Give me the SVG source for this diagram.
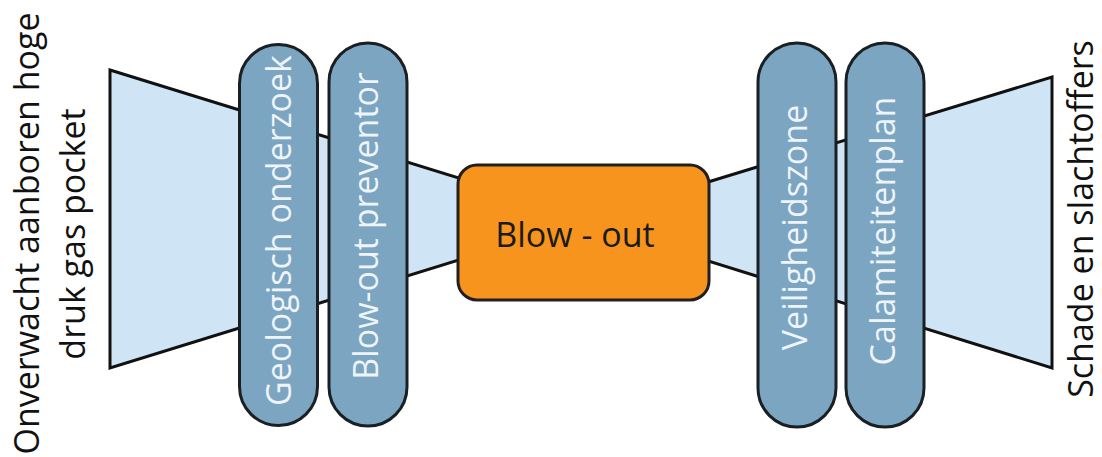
<svg xmlns="http://www.w3.org/2000/svg" width="1102" height="457" viewBox="0 0 1102 457">
  <style>
    .wing { fill: #CFE5F5; stroke: #111; stroke-width: 3; stroke-linejoin: miter; }
    .pill { fill: #7BA5C1; stroke: #1A1F24; stroke-width: 3; }
    .pilltext { font-family: "Open Sans", "Liberation Sans", sans-serif; font-size: 34px; fill: #EEF4F9; text-anchor: middle; }
    .side { font-family: "Open Sans", "Liberation Sans", sans-serif; font-size: 34px; fill: #111; text-anchor: middle; }
    .event { fill: #F7941D; stroke: #231F20; stroke-width: 3; }
    .eventtext { font-family: "Open Sans", "Liberation Sans", sans-serif; font-size: 34px; fill: #1A1A1A; text-anchor: middle; }
  </style>
  <rect width="1102" height="457" fill="#FFFFFF"/>

  <g id="connectors">
    <polygon class="wing" points="110,70 459,178 459,260 110,368"/>
    <polygon class="wing" points="708,182 1052,77 1052,368 708,261"/>
  </g>

  <g id="threat">
    <text class="side" transform="translate(39,233.5) rotate(-90)">Onverwacht aanboren hoge</text>
    <text class="side" transform="translate(85,234) rotate(-90)">druk gas pocket</text>
  </g>

  <g id="barrier-geologisch">
    <rect class="pill" x="239.5" y="44.5" width="78" height="381" rx="39" ry="39"/>
    <text class="pilltext" transform="translate(291,230.5) rotate(-90)">Geologisch onderzoek</text>
  </g>

  <g id="barrier-bop">
    <rect class="pill" x="329" y="43" width="78" height="383" rx="39" ry="39"/>
    <text class="pilltext" transform="translate(378,226) rotate(-90)">Blow-out preventor</text>
  </g>

  <g id="top-event">
    <rect class="event" x="458" y="165" width="251" height="135" rx="19" ry="19"/>
    <text class="eventtext" x="575" y="247">Blow - out</text>
  </g>

  <g id="barrier-veiligheidszone">
    <rect class="pill" x="758" y="43" width="78" height="384" rx="39" ry="39"/>
    <text class="pilltext" transform="translate(807,227.5) rotate(-90)">Veiligheidszone</text>
  </g>

  <g id="barrier-calamiteitenplan">
    <rect class="pill" x="846" y="43" width="78" height="384" rx="39" ry="39"/>
    <text class="pilltext" transform="translate(895,231) rotate(-90)">Calamiteitenplan</text>
  </g>

  <g id="consequence">
    <text class="side" transform="translate(1093,219) rotate(-90)">Schade en slachtoffers</text>
  </g>
</svg>
